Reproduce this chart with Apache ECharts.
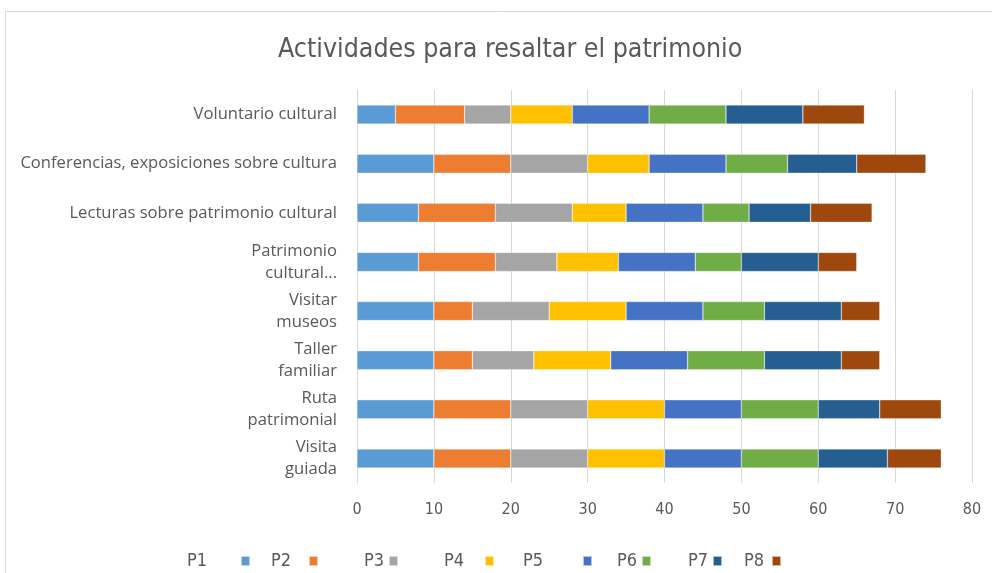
<!DOCTYPE html>
<html>
<head>
<meta charset="utf-8">
<script src="https://cdn.jsdelivr.net/npm/echarts@6/dist/echarts.min.js"></script>
<style>
  html, body { margin: 0; padding: 0; background: #fff; }
  #chart { width: 992px; height: 573px; }
</style>
</head>
<body>
<div id="chart"></div>
<script>
// categories, bottom to top (category axis starts at the bottom)
const categories = [
  'Visita\nguiada',
  'Ruta\npatrimonial',
  'Taller\nfamiliar',
  'Visitar\nmuseos',
  'Patrimonio\ncultural...',
  'Lecturas sobre patrimonio cultural',
  'Conferencias, exposiciones sobre cultura',
  'Voluntario cultural'
];
const seriesNames = ['P1', 'P2', 'P3', 'P4', 'P5', 'P6', 'P7', 'P8'];

const p1 = [10, 10, 10, 10, 8, 8, 10, 5];
const p2 = [10, 10, 5, 5, 10, 10, 10, 9];
const p3 = [10, 10, 8, 10, 8, 10, 10, 6];
const p4 = [10, 10, 10, 10, 8, 7, 8, 8];
const p5 = [10, 10, 10, 10, 10, 10, 10, 10];
const p6 = [10, 10, 10, 8, 6, 6, 8, 10];
const p7 = [9, 8, 10, 10, 10, 8, 9, 10];
const p8 = [7, 8, 5, 5, 5, 8, 9, 8];
const values = [p1, p2, p3, p4, p5, p6, p7, p8];

const xTicks = { min: 0, max: 80, interval: 10 };

const colors = ['#5B9BD5', '#ED7D31', '#A5A5A5', '#FFC000', '#4472C4', '#70AD47', '#255E91', '#9E480E'];

// legend layout: right edge of each marker and extra gap between text and marker
const legendMarkerRight = [251, 319, 399, 495, 593, 652, 723, 782];
const legendExtraGap = [29, 13, 0, 16, 35, 0, 0, 3];

const chart = echarts.init(document.getElementById('chart'), null, { renderer: 'canvas' });

const textColor = '#595959';
const gridColor = '#D9D9D9';
const narrowFont = '"DejaVu Sans Condensed", "Liberation Sans", sans-serif';

chart.setOption({
  backgroundColor: '#fff',
  animation: false,
  color: colors,
  title: {
    text: 'Actividades para resaltar el patrimonio',
    left: 273,
    top: 32,
    textStyle: {
      fontFamily: narrowFont,
      fontWeight: 'normal',
      fontSize: 26.5,
      color: textColor
    }
  },
  graphic: [{
    type: 'rect',
    shape: { x: 5.5, y: 11.5, width: 1000, height: 600 },
    style: { fill: 'none', stroke: gridColor, lineWidth: 1 },
    silent: true,
    z: -1
  }],
  legend: seriesNames.map((name, i) => ({
    data: [name],
    right: 992 - legendMarkerRight[i],
    top: 552,
    align: 'right',
    itemWidth: 9,
    itemHeight: 10,
    icon: 'rect',
    padding: 0,
    textStyle: {
      fontFamily: narrowFont,
      fontSize: 18,
      color: textColor,
      padding: [0, legendExtraGap[i], 0, 0]
    }
  })),
  grid: {
    left: 357,
    right: 20,
    top: 90,
    bottom: 90,
    containLabel: false
  },
  xAxis: {
    type: 'value',
    min: xTicks.min,
    max: xTicks.max,
    interval: xTicks.interval,
    axisLine: { show: false },
    axisTick: { show: false },
    splitLine: { lineStyle: { color: gridColor, width: 1 } },
    axisLabel: {
      margin: 19,
      color: textColor,
      fontFamily: narrowFont,
      fontSize: 16
    }
  },
  yAxis: {
    type: 'category',
    data: categories,
    axisLine: { show: true, lineStyle: { color: gridColor } },
    axisTick: { show: false },
    axisLabel: {
      margin: 20,
      color: textColor,
      fontFamily: '"Open Sans", sans-serif',
      fontSize: 16.6,
      lineHeight: 22
    }
  },
  series: seriesNames.map((name, i) => ({
    name: name,
    type: 'bar',
    stack: 'total',
    barWidth: 19,
    data: values[i],
    itemStyle: { borderColor: 'rgba(255,255,255,0.6)', borderWidth: 0.5 }
  }))
});
</script>
</body>
</html>
